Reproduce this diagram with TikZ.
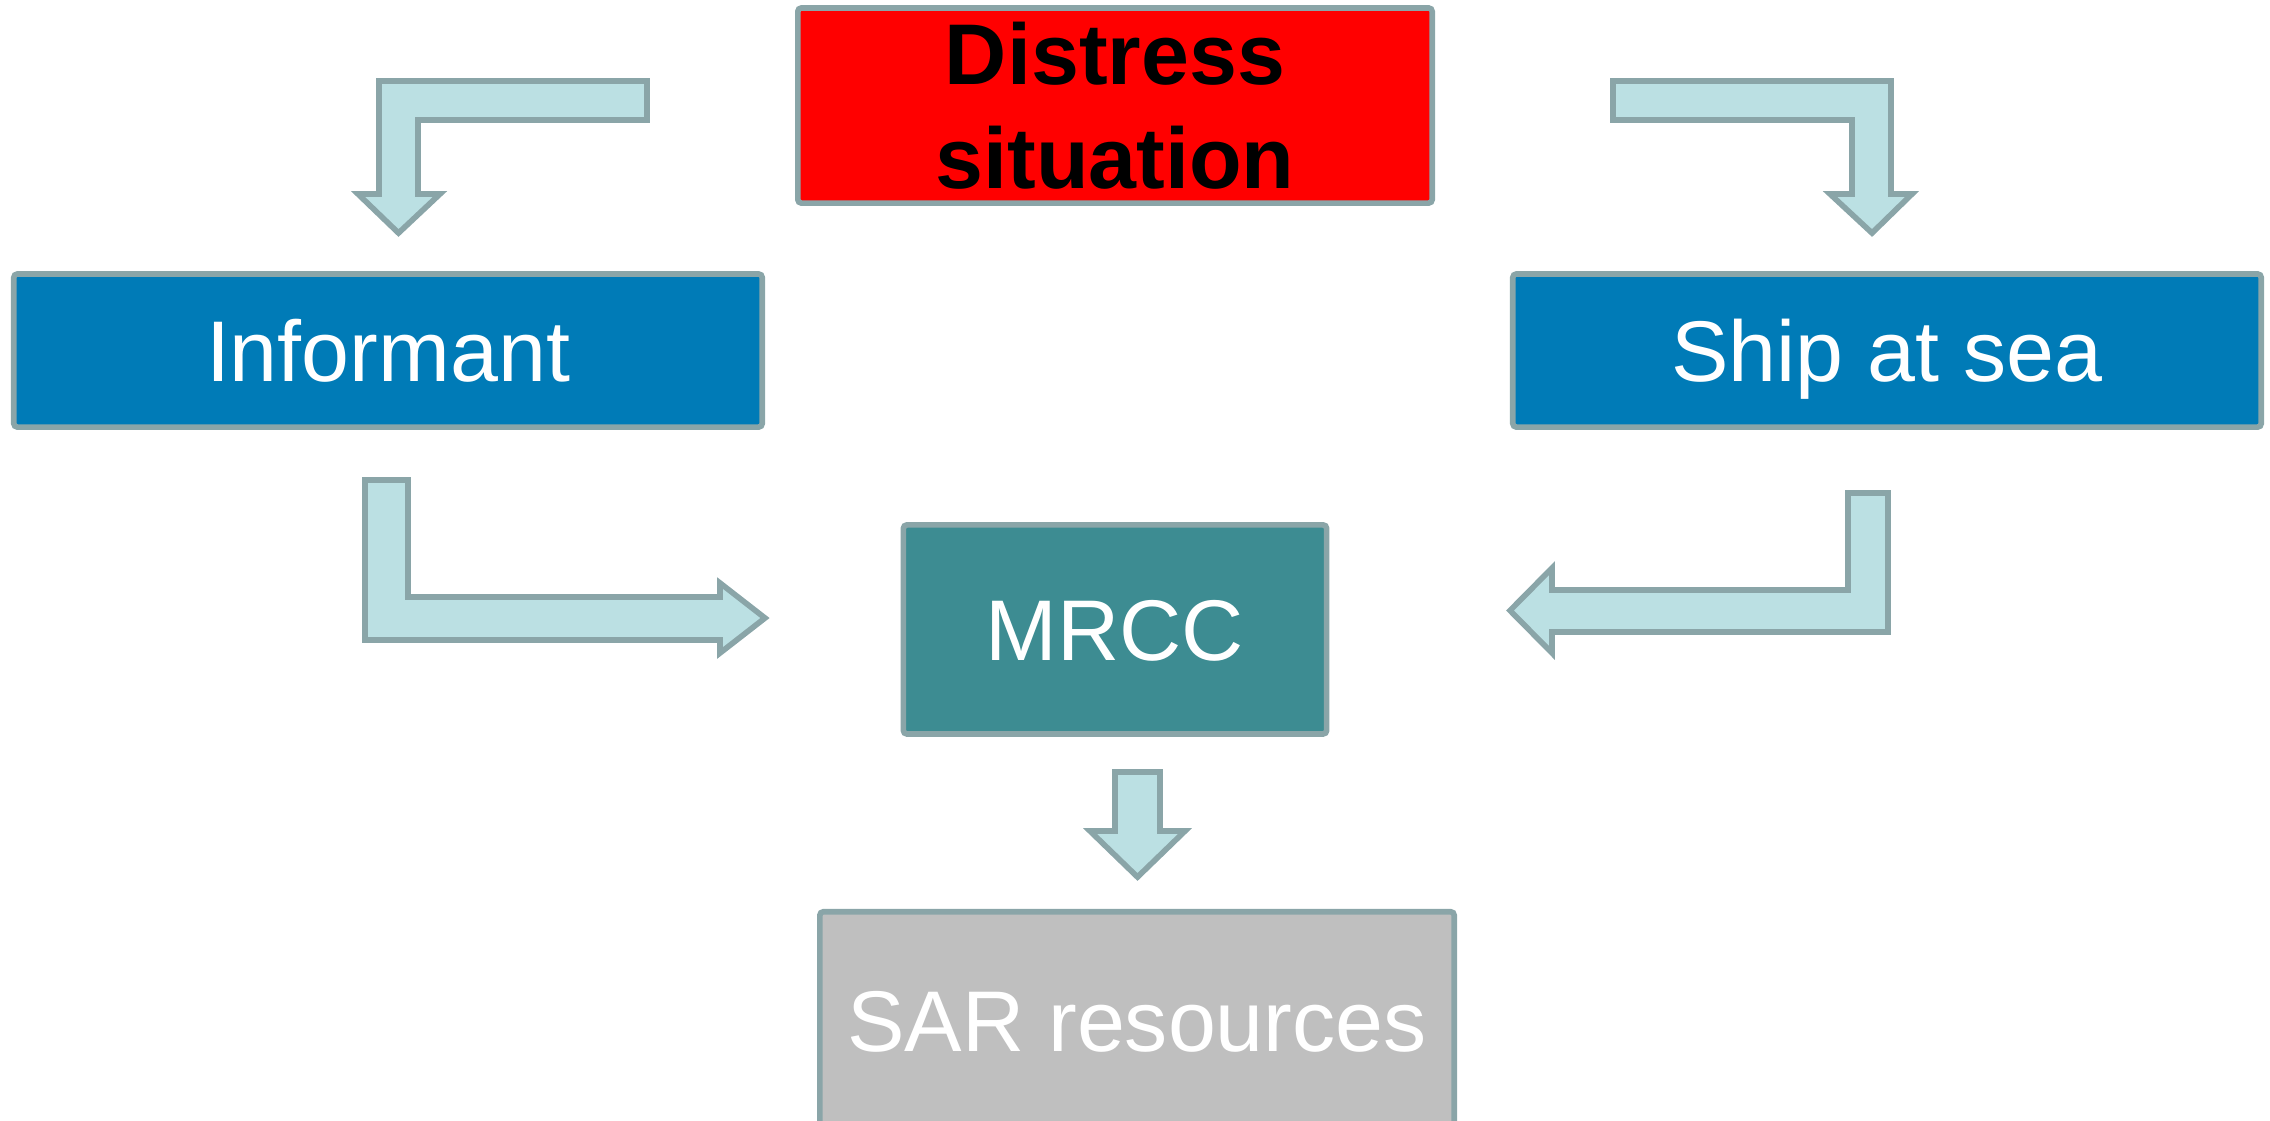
\documentclass[tikz,border=0pt]{standalone}
\usepackage{fontspec}
\setmainfont{Liberation Sans}
\usetikzlibrary{positioning}
\definecolor{alarmred}{RGB}{255,0,0}
\definecolor{seablue}{RGB}{0,123,183}
\definecolor{centreteal}{RGB}{61,140,146}
\definecolor{resgrey}{RGB}{191,191,191}
\definecolor{edgegrey}{RGB}{138,165,168}
\definecolor{arrowfill}{RGB}{187,224,227}

\begin{document}
\begin{tikzpicture}[
    x=0.01cm, y=-0.01cm,
    font=\fontsize{24.5}{29.5}\selectfont,
    frame/.style={draw=edgegrey, line width=1.6pt, rounded corners=1pt, inner sep=0pt},
    box/.style={frame, text=white, text height=17.5pt, text depth=0pt},
    alarmbox/.style={frame, fill=alarmred, text=black, font=\fontsize{24.5}{29.5}\selectfont\bfseries, align=center},
    partybox/.style={box, fill=seablue, minimum width=7.48cm, minimum height=1.53cm},
    centrebox/.style={box, fill=centreteal, minimum width=4.23cm, minimum height=2.09cm},
    resbox/.style={box, fill=resgrey, minimum width=6.34cm, minimum height=2.17cm},
    blockarrow/.style={draw=edgegrey, fill=arrowfill, line width=1.6pt, miter limit=4},
]
\useasboundingbox (0,0) rectangle (2270,1120);
\clip (0,0) rectangle (2270,1120);

% --------------------------------------------------------------- boxes ---
\node[alarmbox, minimum width=6.34cm, minimum height=1.95cm] (distress) at (1115,105.5) {Distress\\situation};
\node[partybox] (informant) at (388,350.5) {Informant};
\node[partybox] (ship) at (1887,350.5) {Ship at sea};
\node[centrebox, below=3.16cm of distress] (mrcc) {MRCC};
\node[resbox, below=1.72cm of mrcc, xshift=2.2mm] (sar) {SAR resources};

% -------------------------------------------------------- block arrows ---
\coordinate (toinformant) at (647,81);
\coordinate (toship) at (1613,81);
\coordinate (frominformant) at (365,480);
\coordinate (fromship) at (1888,493);
\coordinate (tosar) at (1115,772);

\draw[blockarrow] (toinformant) -- ++(-268,0) -- ++(0,113) -- ++(-21,0) -- ++(40.5,39) -- ++(41.5,-39) -- ++(-22,0) -- ++(0,-74) -- ++(229,0) -- cycle;
\draw[blockarrow] (toship) -- ++(278,0) -- ++(0,113) -- ++(21,0) -- ++(-40,39) -- ++(-42,-39) -- ++(22,0) -- ++(0,-74) -- ++(-239,0) -- cycle;
\draw[blockarrow] (frominformant) -- ++(43,0) -- ++(0,117) -- ++(312,0) -- ++(0,-14) -- ++(45,35) -- ++(-45,35) -- ++(0,-13) -- ++(-355,0) -- cycle;
\draw[blockarrow] (fromship) -- ++(-40,0) -- ++(0,97) -- ++(-296,0) -- ++(0,-22) -- ++(-42,42.5) -- ++(42,42.5) -- ++(0,-21) -- ++(336,0) -- cycle;
\draw[blockarrow] (tosar) -- ++(45,0) -- ++(0,59) -- ++(25,0) -- ++(-47.5,46) -- ++(-47.5,-46) -- ++(25,0) -- cycle;

\end{tikzpicture}
\end{document}
